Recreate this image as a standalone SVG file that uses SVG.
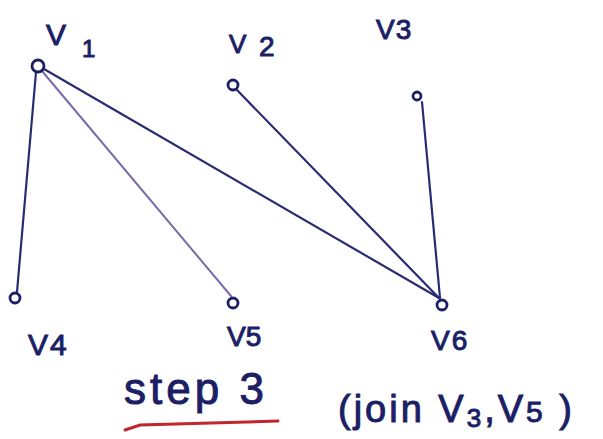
<svg xmlns="http://www.w3.org/2000/svg" width="603" height="439" viewBox="0 0 603 439">
<style>
.e{stroke:#2a2c72;stroke-width:2.2;fill:none;stroke-linecap:round}
.p{stroke:#7a6aa8;stroke-width:2;fill:none;stroke-linecap:round}
.n{fill:none;stroke:#1c1f66;stroke-width:2.8}
.t{font-family:"Liberation Sans",Arial,sans-serif;fill:#1c1f66;stroke:#1c1f66;stroke-width:1}
</style>
<rect width="603" height="439" fill="#fff"/>
<g id="connectors">
<line class="e" x1="36" y1="72" x2="17" y2="292"/>
<line class="p" x1="42" y1="71" x2="231" y2="296"/>
<line class="e" x1="44" y1="69" x2="439" y2="298"/>
<line class="e" x1="237" y1="90" x2="439" y2="298"/>
<line class="e" x1="422" y1="102" x2="440" y2="298"/>
</g>
<g id="v1"><circle class="n" cx="38" cy="66" r="6"/><text class="t" x="46" y="45" font-size="30">V</text><text class="t" x="82" y="57" font-size="24">1</text></g>
<g id="v2"><circle class="n" cx="233" cy="85" r="5"/><text class="t" x="229" y="53" font-size="26">V</text><text class="t" x="259" y="56" font-size="28">2</text></g>
<g id="v3"><circle class="n" cx="417" cy="96" r="4"/><text class="t" x="376" y="39" font-size="28" letter-spacing="1">V3</text></g>
<g id="v4"><circle class="n" cx="15" cy="298" r="5"/><text class="t" x="28" y="355" font-size="30" letter-spacing="2">V4</text></g>
<g id="v5"><circle class="n" cx="233" cy="303" r="5"/><text class="t" x="227" y="346" font-size="28">V5</text></g>
<g id="v6"><circle class="n" cx="442" cy="305" r="5"/><text class="t" x="431" y="350" font-size="28" letter-spacing="2">V6</text></g>
<g id="caption">
<text class="t" x="124" y="404" font-size="44" letter-spacing="4">step 3</text>
<path d="M125 430 L140 425 L278 421" stroke="#c0262c" stroke-width="3" fill="none" stroke-linecap="round"/>
<text class="t" x="338" y="422" font-size="38" letter-spacing="3">(join V<tspan font-size="26" dy="5">3</tspan><tspan dy="-5">,V</tspan><tspan font-size="30">5</tspan> )</text>
</g>
</svg>
